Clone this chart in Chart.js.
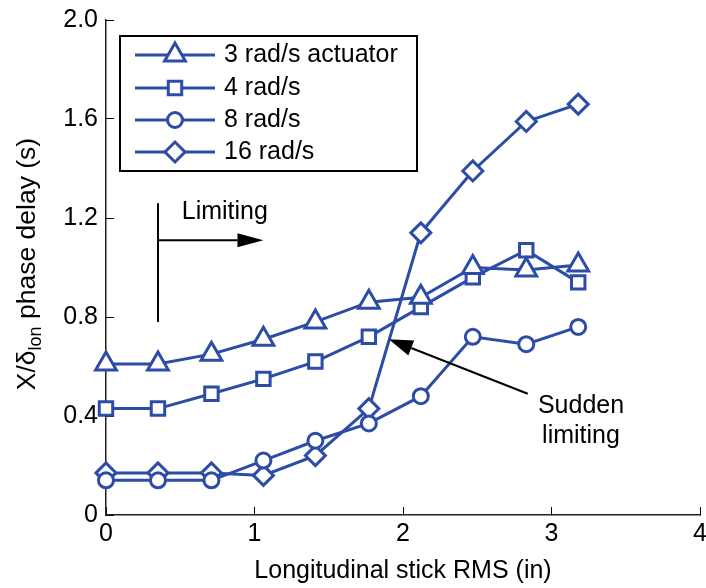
<!DOCTYPE html>
<html>
<head>
<meta charset="utf-8">
<script src="https://cdn.jsdelivr.net/npm/chart.js@4.4.0/dist/chart.umd.min.js"></script>
<style>
  html, body { margin: 0; padding: 0; background: #fff; }
  #wrap { width: 706px; height: 588px; }
</style>
</head>
<body>
<div id="wrap"><canvas id="phaseChart" width="706" height="588"></canvas></div>
<script>
// ---- values ----
const stickRms = [0, 0.35, 0.71, 1.06, 1.41, 1.77, 2.12, 2.47, 2.83, 3.18];
const delay3 = [0.61, 0.61, 0.65, 0.71, 0.78, 0.86, 0.88, 1.00, 0.99, 1.01];
const delay4 = [0.43, 0.43, 0.49, 0.55, 0.62, 0.72, 0.84, 0.96, 1.07, 0.94];
const delay8 = [0.14, 0.14, 0.14, 0.22, 0.30, 0.37, 0.48, 0.72, 0.69, 0.76];
const delay16 = [0.17, 0.17, 0.17, 0.16, 0.24, 0.43, 1.14, 1.39, 1.59, 1.66];
const seriesNames = ['3 rad/s actuator', '4 rad/s', '8 rad/s', '16 rad/s'];
const xTickLabels = ['0', '1', '2', '3', '4'];
const yTickLabels = ['0', '0.4', '0.8', '1.2', '1.6', '2.0'];

const BLUE = '#2c4ca6';
const FONT = 'Liberation Sans, Arial, sans-serif';

// marker shapes per series, same order as seriesNames
const markers = [
  { style: 'triangle', radius: 12 },
  { style: 'rect', radius: 9.5 },
  { style: 'circle', radius: 7.5 },
  { style: 'rectRot', radius: 10 }
];

function makeSeries(values, i) {
  return {
    label: seriesNames[i],
    data: stickRms.map((x, k) => ({ x: x, y: values[k] })),
    borderColor: BLUE,
    borderWidth: 3,
    backgroundColor: '#fff',
    pointStyle: markers[i].style,
    pointRadius: markers[i].radius,
    pointBorderWidth: 3,
    pointBorderColor: BLUE,
    pointBackgroundColor: '#fff',
    tension: 0,
    clip: false
  };
}

// draws legend box, y-axis title with subscript, and the two annotations
const extrasPlugin = {
  id: 'extras',
  afterDraw(chart) {
    const ctx = chart.ctx;
    const xs = chart.scales.x;
    const ys = chart.scales.y;
    const px = v => xs.getPixelForValue(v);
    const py = v => ys.getPixelForValue(v);

    ctx.save();

    // --- y axis title: X/δ_lon phase delay (s)
    ctx.translate(28, 264);
    ctx.rotate(-Math.PI / 2);
    ctx.fillStyle = '#000';
    ctx.textBaseline = 'middle';
    ctx.textAlign = 'left';
    const big = '26.5px ' + FONT, small = '18px ' + FONT;
    ctx.font = big;
    const w1 = ctx.measureText('X/δ').width;
    const w3 = ctx.measureText(' phase delay (s)').width;
    ctx.font = small;
    const w2 = ctx.measureText('lon').width;
    let sx = -(w1 + w2 + w3) / 2;
    ctx.font = big;
    ctx.fillText('X/δ', sx, 0);
    ctx.font = small;
    ctx.fillText('lon', sx + w1, 8);
    ctx.font = big;
    ctx.fillText(' phase delay (s)', sx + w1 + w2, 0);
    ctx.setTransform(1, 0, 0, 1, 0, 0);

    // --- "Limiting" marker
    ctx.strokeStyle = '#000';
    ctx.fillStyle = '#000';
    ctx.lineWidth = 2;
    ctx.beginPath();
    ctx.moveTo(px(0.35), py(1.26));
    ctx.lineTo(px(0.35), py(0.78));
    ctx.stroke();
    drawArrow(ctx, px(0.35), py(1.11), px(1.06), py(1.11), 26, 7);
    ctx.font = '25px ' + FONT;
    ctx.textAlign = 'left';
    ctx.textBaseline = 'middle';
    ctx.fillText('Limiting', px(0.51), py(1.225));

    // --- "Sudden limiting"
    drawArrow(ctx, px(2.84), py(0.49), px(1.905), py(0.71), 24, 8);
    ctx.textAlign = 'center';
    ctx.fillText('Sudden', 581, py(0.44));
    ctx.fillText('limiting', 581, py(0.32));

    // --- legend
    ctx.fillStyle = '#fff';
    ctx.fillRect(120, 36, 297, 135);
    ctx.strokeStyle = '#000';
    ctx.lineWidth = 2;
    ctx.strokeRect(120, 36, 297, 135);
    const rowY = [55, 88, 120, 152];
    chart.data.datasets.forEach((ds, i) => {
      const y = rowY[i];
      ctx.strokeStyle = BLUE;
      ctx.lineWidth = 3;
      ctx.beginPath();
      ctx.moveTo(135, y);
      ctx.lineTo(215, y);
      ctx.stroke();
      ctx.fillStyle = '#fff';
      Chart.helpers.drawPoint(ctx, {
        pointStyle: ds.pointStyle,
        radius: ds.pointRadius,
        borderWidth: 3,
        rotation: 0
      }, 175, y);
      ctx.fillStyle = '#000';
      ctx.font = '25px ' + FONT;
      ctx.textAlign = 'left';
      ctx.textBaseline = 'middle';
      ctx.fillText(ds.label, 224, y);
    });

    ctx.restore();
  }
};

function drawArrow(ctx, x0, y0, x1, y1, headLen, headHalf) {
  const a = Math.atan2(y1 - y0, x1 - x0);
  const bx = x1 - headLen * Math.cos(a);
  const by = y1 - headLen * Math.sin(a);
  ctx.beginPath();
  ctx.moveTo(x0, y0);
  ctx.lineTo(bx, by);
  ctx.stroke();
  ctx.beginPath();
  ctx.moveTo(x1, y1);
  ctx.lineTo(bx + headHalf * Math.sin(a), by - headHalf * Math.cos(a));
  ctx.lineTo(bx - headHalf * Math.sin(a), by + headHalf * Math.cos(a));
  ctx.closePath();
  ctx.fill();
}

// pin the plot box: no extra room reserved for overhanging tick labels
function fixBox(s, size) {
  if (s.isHorizontal()) s.height = size; else s.width = size;
  s.paddingTop = 0;
  s.paddingBottom = 0;
  s.paddingLeft = 0;
  s.paddingRight = 0;
}

const tickFont = { family: FONT, size: 25 };

new Chart(document.getElementById('phaseChart'), {
  type: 'line',
  data: {
    datasets: [delay3, delay4, delay8, delay16].map(makeSeries)
  },
  options: {
    responsive: false,
    animation: false,
    layout: { autoPadding: false, padding: { left: 0, right: 6, top: 20, bottom: 0 } },
    plugins: {
      legend: { display: false },
      tooltip: { enabled: false }
    },
    scales: {
      x: {
        type: 'linear',
        min: 0,
        max: 4,
        ticks: {
          stepSize: 1,
          padding: 12,
          color: '#000',
          font: tickFont,
          maxRotation: 0,
          callback: (v, i) => xTickLabels[i]
        },
        grid: { drawOnChartArea: false, tickLength: -8, tickColor: '#000', tickWidth: 1 },
        border: { display: true, color: '#222', width: 1.5 },
        title: {
          display: true,
          text: 'Longitudinal stick RMS (in)',
          color: '#000',
          font: tickFont,
          padding: { top: 0, bottom: 2 }
        },
        afterFit: s => fixBox(s, 73)
      },
      y: {
        min: 0,
        max: 2,
        ticks: {
          stepSize: 0.4,
          padding: 16,
          color: '#000',
          font: tickFont,
          callback: (v, i) => yTickLabels[i]
        },
        grid: { drawOnChartArea: false, tickLength: -8, tickColor: '#000', tickWidth: 1 },
        border: { display: true, color: '#222', width: 1.5 },
        afterFit: s => fixBox(s, 106)
      }
    }
  },
  plugins: [extrasPlugin]
});
</script>
</body>
</html>
